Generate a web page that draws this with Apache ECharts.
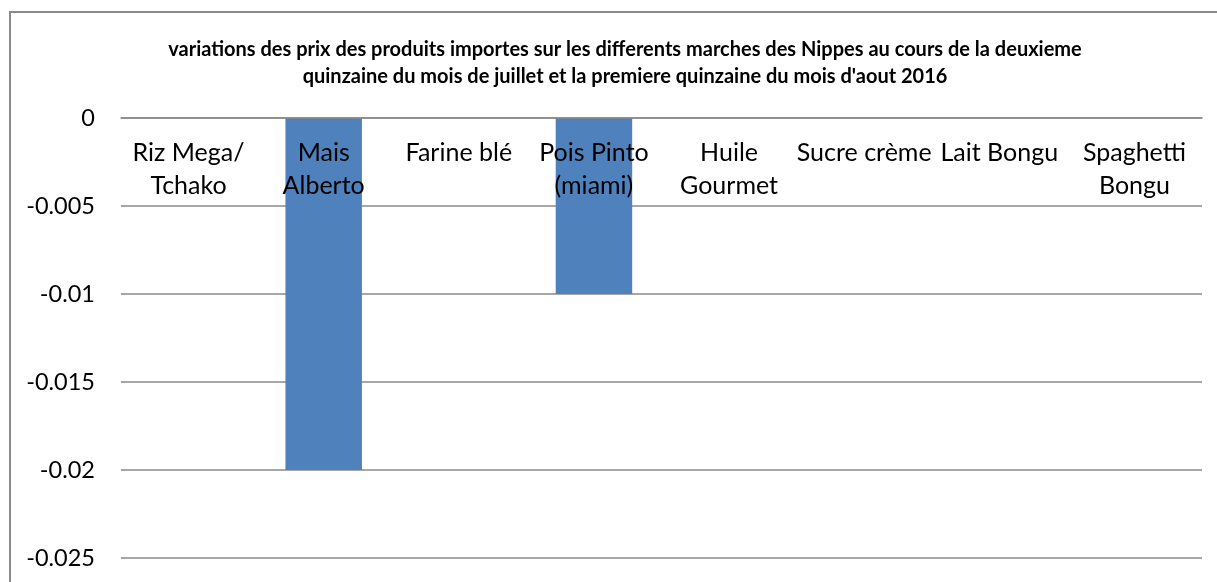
<!DOCTYPE html>
<html>
<head>
<meta charset="utf-8">
<script src="https://cdn.jsdelivr.net/npm/echarts@6/dist/echarts.min.js"></script>
<style>
html,body{margin:0;padding:0;background:#fff;}
#chart{width:1217px;height:582px;}
</style>
</head>
<body>
<div id="chart"></div>
<script>
const titleText = "variations des prix des produits importes sur les differents marches des Nippes au cours de la deuxieme\nquinzaine du mois de juillet et la premiere quinzaine du mois d'aout 2016";
const categories = ["Riz Mega/\nTchako", "Mais\nAlberto", "Farine blé", "Pois Pinto\n(miami)", "Huile\nGourmet", "Sucre crème", "Lait Bongu", "Spaghetti\nBongu"];
const values = [0, -0.02, 0, -0.01, 0, 0, 0, 0];
const yMin = -0.025, yMax = 0, yStep = 0.005;

const chart = echarts.init(document.getElementById('chart'));
chart.setOption({
  animation: false,
  textStyle: { fontFamily: 'Lato' },
  graphic: [{
    type: 'rect', z: -1,
    shape: { x: 10, y: 12, width: 1300, height: 700 },
    style: { fill: '#fff', stroke: '#8a8a8a', lineWidth: 2 }
  }],
  title: {
    text: titleText,
    left: 620, top: 31, textAlign: 'center',
    textStyle: { fontFamily: 'Lato', fontWeight: 'bold', fontSize: 20, color: '#000', lineHeight: 27 }
  },
  grid: { left: 121, right: 15, top: 118, bottom: 24, containLabel: false, outerBoundsMode: 'none' },
  xAxis: {
    type: 'category', data: categories, z: 10, position: 'top',
    axisLine: { onZero: false, lineStyle: { color: '#8a8a8a', width: 1.5 } },
    axisTick: { show: false },
    axisLabel: { inside: true, color: '#000', fontSize: 25, lineHeight: 33, margin: 18, interval: 0, verticalAlign: 'top' },
    splitLine: { show: false }
  },
  yAxis: {
    type: 'value', min: yMin, max: yMax, interval: yStep,
    axisLine: { show: false }, axisTick: { show: false },
    axisLabel: { color: '#000', fontSize: 23.5, margin: 26, formatter: v => String(parseFloat(v.toFixed(3))) },
    splitLine: { lineStyle: { color: '#8a8a8a', width: 1.5 } }
  },
  series: [{
    type: 'bar', data: values, barWidth: '56.6%',
    itemStyle: { color: '#4F81BD' }
  }]
});
</script>
</body>
</html>
